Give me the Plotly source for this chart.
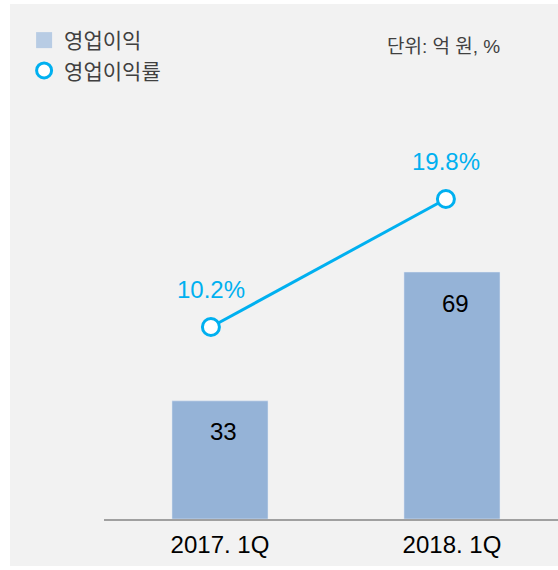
import plotly.graph_objects as go

categories = ["2017. 1Q", "2018. 1Q"]
op_profit = [33, 69]
op_margin = [10.2, 19.8]
bar_labels = ["33", "69"]
margin_labels = ["10.2%", "19.8%"]

FONT = "Liberation Sans, Arial, Noto Sans CJK KR, sans-serif"
BAR_COLOR = "#95b3d7"
LINE_COLOR = "#00b0f0"

fig = go.Figure()

fig.add_trace(go.Bar(
    x=categories, y=op_profit, width=0.414, marker=dict(color=BAR_COLOR),
    name="영업이익", showlegend=False, xaxis="x", yaxis="y", hoverinfo="skip",
))
fig.add_trace(go.Scatter(
    x=categories, y=op_margin, mode="lines+markers",
    line=dict(color=LINE_COLOR, width=3),
    marker=dict(size=17, color="white", line=dict(color=LINE_COLOR, width=3)),
    name="영업이익률", showlegend=False, xaxis="x2", yaxis="y2", hoverinfo="skip",
))
# legend-only entries
fig.add_trace(go.Scatter(
    x=[None], y=[None], mode="markers", name="영업이익",
    marker=dict(symbol="square", size=19, color="#b8cce4"),
))
fig.add_trace(go.Scatter(
    x=[None], y=[None], mode="markers", name="영업이익률",
    marker=dict(symbol="circle", size=15, color="white", line=dict(color=LINE_COLOR, width=3)),
))

annotations = []
for c, v, t in zip(categories, op_profit, bar_labels):
    annotations.append(dict(x=c, y=v, xref="x", yref="y", text=t, showarrow=False,
                            yshift=-31, xshift=4, font=dict(family=FONT, size=24, color="black")))
for c, v, t in zip(categories, op_margin, margin_labels):
    annotations.append(dict(x=c, y=v, xref="x2", yref="y2", text=t, showarrow=False,
                            yshift=38, font=dict(family=FONT, size=24, color=LINE_COLOR)))
annotations.append(dict(x=0.877, y=0.918, xref="paper", yref="paper", xanchor="right",
                        yanchor="middle", text="단위: 억 원, %", showarrow=False,
                        font=dict(family=FONT, size=19, color="#404040")))

fig.update_layout(
    width=558, height=570,
    margin=dict(l=104, r=0, t=4, b=51, pad=0),
    paper_bgcolor="white", plot_bgcolor="rgba(0,0,0,0)",
    font=dict(family=FONT),
    showlegend=True,
    legend=dict(x=-0.176, y=0.969, xanchor="left", yanchor="top",
                bgcolor="rgba(0,0,0,0)", font=dict(family=FONT, size=21, color="#404040"),
                tracegroupgap=0, itemsizing="trace"),
    xaxis=dict(type="category", range=[-0.5, 1.457], showgrid=False, zeroline=False,
               showline=True, linecolor="#a0a0a0", linewidth=2,
               ticks="", ticklabelstandoff=3,
               tickfont=dict(family=FONT, size=24, color="black")),
    xaxis2=dict(type="category", range=[-0.455, 1.477], overlaying="x", visible=False,
                categoryorder="array", categoryarray=categories),
    yaxis=dict(range=[0, 143.87], visible=False, showgrid=False, zeroline=False),
    yaxis2=dict(range=[-4.2, 34.425], overlaying="y", visible=False, showgrid=False,
                zeroline=False),
    annotations=annotations,
    shapes=[dict(type="rect", xref="paper", yref="paper", layer="below",
                 x0=(10 - 104) / 454, x1=1.0, y0=(519 - 566) / 515, y1=1.0,
                 fillcolor="#f2f2f2", line=dict(width=0))],
)

fig.write_html("out.html", config={"displayModeBar": False},
               post_script="document.body.style.margin='0';document.body.style.overflow='hidden';")
